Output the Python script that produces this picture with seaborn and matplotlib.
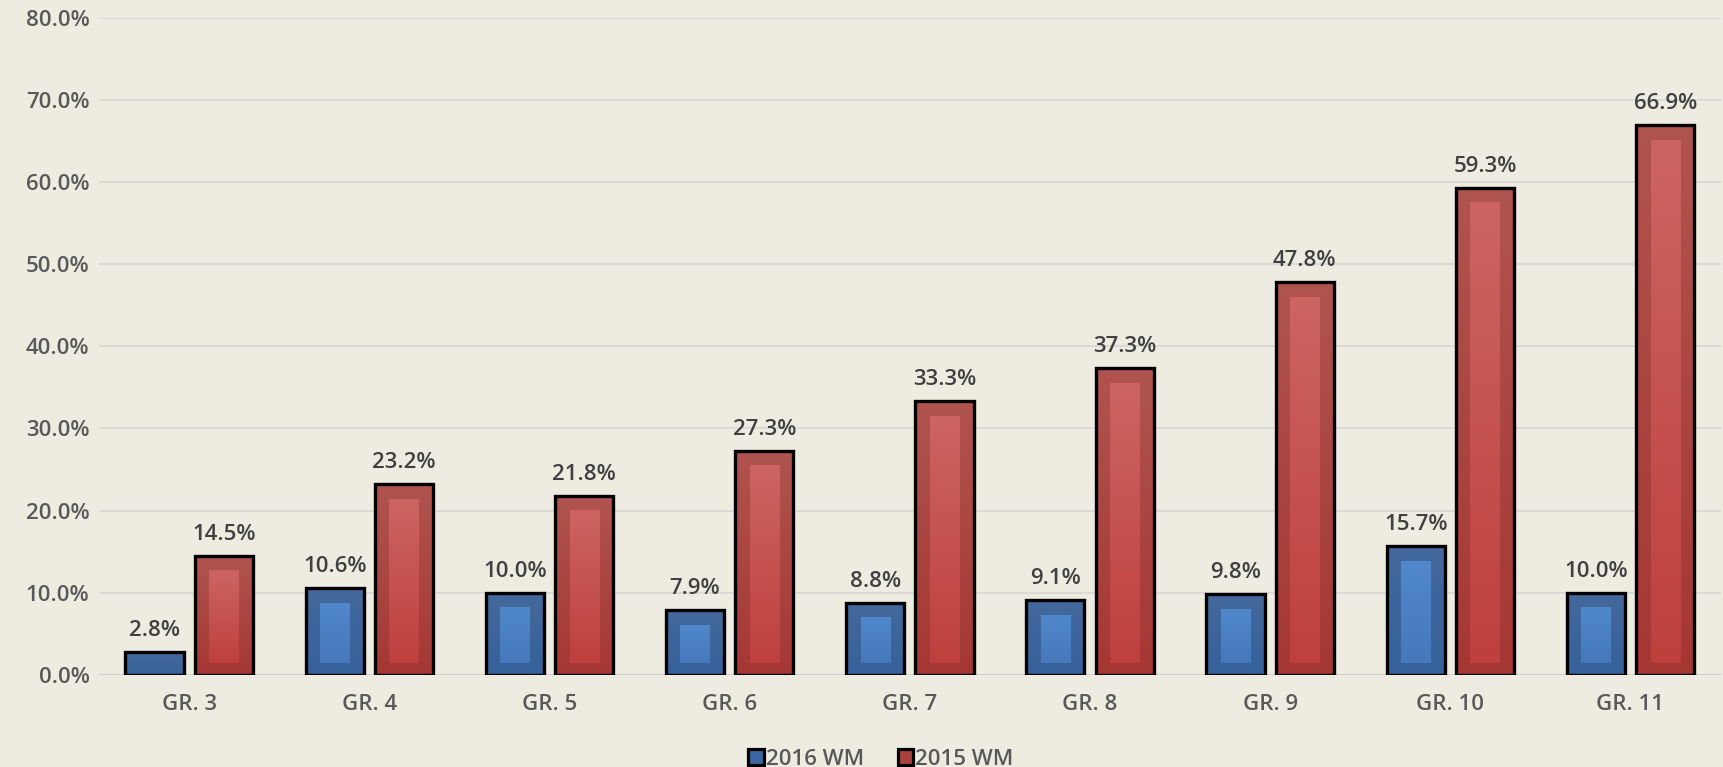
import pandas as pd
import numpy as np
import matplotlib
matplotlib.use("Agg")
import matplotlib.pyplot as plt
from matplotlib.colors import LinearSegmentedColormap
from matplotlib.ticker import PercentFormatter
import seaborn as sns

# Données
grades = ["GR. 3", "GR. 4", "GR. 5", "GR. 6", "GR. 7", "GR. 8", "GR. 9", "GR. 10", "GR. 11"]
wm_2016 = [2.8, 10.6, 10.0, 7.9, 8.8, 9.1, 9.8, 15.7, 10.0]
wm_2015 = [14.5, 23.2, 21.8, 27.3, 33.3, 37.3, 47.8, 59.3, 66.9]
series = ["2016 WM", "2015 WM"]

bg = "#EEEBE0"
outer_colors = ["#3A679F", "#A9413D"]
# dégradés (haut -> bas)
outer_grad = [("#44699C", "#36619A"), ("#B0544F", "#A53733")]
inner_grad = [("#5088CB", "#4579BB"), ("#CC6562", "#BE403D")]

df = pd.DataFrame({
    "grade": grades * 2,
    "value": wm_2016 + wm_2015,
    "serie": [series[0]] * len(grades) + [series[1]] * len(grades),
})

sns.set_style("white")
plt.rcParams["font.family"] = ["Open Sans", "DejaVu Sans"]

fig = plt.figure(figsize=(17.24, 7.67), dpi=100, facecolor=bg)
ax = fig.add_axes([0.0575, 0.12, 0.9405, 0.857])
ax.set_facecolor(bg)

sns.barplot(data=df, x="grade", y="value", hue="serie", hue_order=series,
            palette=outer_colors, width=0.77, gap=0.16, edgecolor="none",
            linewidth=0, saturation=1, ax=ax, zorder=3)

ax.set_xlim(-0.5, len(grades) - 0.5)
ax.set_ylim(0, 80)
grad = np.linspace(0, 1, 256).reshape(-1, 1)


def fill_gradient(x0, x1, y0, y1, colors, z):
    cmap = LinearSegmentedColormap.from_list("g", [colors[1], colors[0]])
    ax.imshow(grad, extent=[x0, x1, y0, y1], origin="lower", aspect="auto",
              cmap=cmap, zorder=z, interpolation="bilinear")


# Barres en dégradé + rectangle intérieur plus clair
for i, cont in enumerate(ax.containers[:2]):
    for p in cont.patches:
        x0, w, h = p.get_x(), p.get_width(), p.get_height()
        fill_gradient(x0, x0 + w, 0, h, outer_grad[i], 3.2)
        if h > 4:
            fill_gradient(x0 + w * 0.25, x0 + w * 0.75, 1.5, h - 1.8, inner_grad[i], 3.4)
        ax.bar(x0 + w / 2, h, width=w, fill=False, edgecolor="black",
               linewidth=2.4, zorder=3.6)

for cont in ax.containers[:2]:
    ax.bar_label(cont, fmt="%.1f%%", padding=8, fontsize=16,
                 fontweight="semibold", color="#404040", zorder=5)

ax.set_xlim(-0.5, len(grades) - 0.5)
ax.set_ylim(0, 80)
ax.set_yticks(range(0, 81, 10))
ax.yaxis.set_major_formatter(PercentFormatter(xmax=100, decimals=1))
ax.grid(axis="y", color="#D9D9D9", linewidth=1.3, zorder=0)
ax.set_axisbelow(True)
ax.axhline(0, color="#D0D0D0", linewidth=1.5, zorder=2)
sns.despine(ax=ax, left=True, bottom=True, top=True, right=True)
ax.tick_params(axis="y", length=0, pad=7, labelsize=16, labelcolor="#595959")
ax.tick_params(axis="x", length=0, pad=14, labelsize=16, labelcolor="#595959")
for lab in ax.get_xticklabels() + ax.get_yticklabels():
    lab.set_fontweight("semibold")
ax.set_xlabel("")
ax.set_ylabel("")

ax.legend_.remove()
handles = [plt.Rectangle((0, 0), 1, 1, facecolor=c, edgecolor="black", linewidth=2.3)
           for c in outer_colors]
fig.legend(handles, series, loc="lower center", bbox_to_anchor=(0.511, -0.03),
           ncol=2, frameon=False, labelcolor="#595959",
           handlelength=0.7, handleheight=0.7, handletextpad=0.1, columnspacing=1.5,
           prop={"weight": "semibold", "size": 16})

fig.savefig("out.png", dpi=100, facecolor=bg)
